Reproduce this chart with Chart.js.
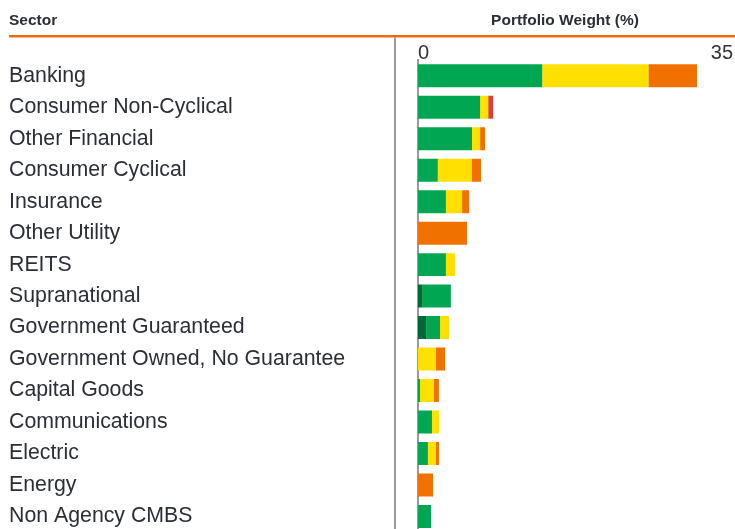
<!DOCTYPE html>
<html>
<head>
<meta charset="utf-8">
<script src="https://cdn.jsdelivr.net/npm/chart.js@4/dist/chart.umd.min.js"></script>
<style>
  html, body { margin: 0; padding: 0; background: #fff; overflow: hidden; }
  #wrap { width: 735px; height: 545px; position: relative; }
</style>
</head>
<body>
<div id="wrap"><canvas id="chart"></canvas></div>
<script>
const sectors = [
  'Banking', 'Consumer Non-Cyclical', 'Other Financial', 'Consumer Cyclical',
  'Insurance', 'Other Utility', 'REITS', 'Supranational', 'Government Guaranteed',
  'Government Owned, No Guarantee', 'Capital Goods', 'Communications', 'Electric',
  'Energy', 'Non Agency CMBS'
];
// portfolio weight (%) by rating bucket
const darkGreenVals = [0, 0, 0, 0, 0, 0, 0, 0.45, 0.9, 0, 0, 0, 0, 0, 0];
const greenVals     = [13.8, 6.9, 6.0, 2.2, 3.1, 0, 3.1, 3.2, 1.55, 0, 0.22, 1.55, 1.1, 0, 1.45];
const yellowVals    = [11.8, 0.9, 0.9, 3.8, 1.8, 0, 1.0, 0, 1.0, 2.0, 1.55, 0.78, 0.9, 0, 0];
const orangeVals    = [5.4, 0, 0.55, 1.0, 0.78, 5.45, 0, 0, 0, 1.0, 0.55, 0, 0.33, 1.67, 0];
const redVals       = [0, 0.55, 0, 0, 0, 0, 0, 0, 0, 0, 0, 0, 0, 0, 0];
const axisTicks = [0, 35];

const textColor = '#2b2e36';
const fontFamily = '"Liberation Sans", Arial, sans-serif';

// header titles, orange rule, separator line
const headerPlugin = {
  id: 'header',
  afterDraw(chart) {
    const ctx = chart.ctx;
    ctx.save();
    ctx.fillStyle = textColor;
    ctx.font = 'bold 15.5px ' + fontFamily;
    ctx.textBaseline = 'middle';
    ctx.textAlign = 'left';
    ctx.fillText('Sector', 9, 21);
    ctx.textAlign = 'center';
    ctx.fillText('Portfolio Weight (%)', 565, 21);

    ctx.fillStyle = '#ec6c0e';
    ctx.fillRect(9, 35, 726, 2.5);

    ctx.fillStyle = '#9a9a9e';
    ctx.fillRect(394, 37.5, 2, chart.height);
    ctx.restore();
  }
};

const mkSet = (label, data, color) => ({
  label: label,
  data: data,
  backgroundColor: color,
  borderWidth: 0,
  categoryPercentage: 1,
  barPercentage: 0.73
});

new Chart(document.getElementById('chart'), {
  type: 'bar',
  data: {
    labels: sectors,
    datasets: [
      mkSet('AAA', darkGreenVals, '#006837'),
      mkSet('AA/A', greenVals, '#00a651'),
      mkSet('BBB', yellowVals, '#ffe000'),
      mkSet('BB', orangeVals, '#f07000'),
      mkSet('B', redVals, '#d9403a')
    ]
  },
  options: {
    indexAxis: 'y',
    responsive: true,
    maintainAspectRatio: false,
    animation: false,
    layout: {
      padding: { left: 9, right: 2, top: 41, bottom: 11 }
    },
    scales: {
      x: {
        position: 'top',
        stacked: true,
        min: 0,
        max: 35,
        afterBuildTicks: (scale) => {
          scale.ticks = axisTicks.map(v => ({ value: v }));
        },
        afterFit: (scale) => { scale.height = 19; },
        grid: { display: false, drawTicks: false },
        border: { display: false },
        ticks: {
          align: 'inner',
          padding: -5,
          color: '#333',
          font: { size: 20, family: fontFamily }
        }
      },
      y: {
        stacked: true,
        afterFit: (scale) => { scale.width = 409; },
        grid: { display: false, drawTicks: false },
        border: { display: true, color: '#9a9a9e', width: 2 },
        ticks: {
          crossAlign: 'far',
          padding: 0,
          color: textColor,
          font: { size: 21.3, family: fontFamily }
        }
      }
    },
    plugins: {
      legend: { display: false },
      tooltip: { enabled: false }
    }
  },
  plugins: [headerPlugin]
});
</script>
</body>
</html>
